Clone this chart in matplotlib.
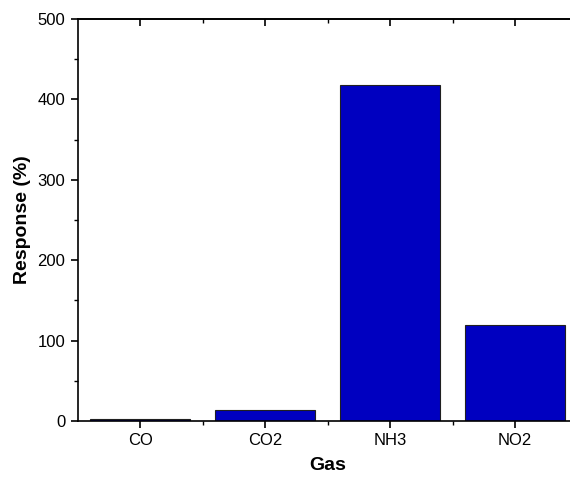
import matplotlib
matplotlib.use('Agg')
import matplotlib.pyplot as plt
from matplotlib.ticker import MultipleLocator, FixedLocator

gases = ['CO', 'CO2', 'NH3', 'NO2']
response = [2.5, 14, 418, 120]

plt.rcParams['font.family'] = ['Liberation Sans', 'DejaVu Sans']

fig = plt.figure(figsize=(5.7, 4.82), dpi=100)
# right spine sits just past the image edge, as in the reference crop
ax = fig.add_axes([0.1368, 0.1266, 0.8765, 0.834])

x = range(len(gases))
ax.bar(x, response, width=0.8, color='#0000c0', edgecolor='#202020', linewidth=0.8)

ax.set_xlim(-0.5, 3.5)
ax.set_ylim(0, 500)
ax.set_xticks(list(x))
ax.set_xticklabels(gases)
ax.xaxis.set_minor_locator(FixedLocator([0.5, 1.5, 2.5]))
ax.yaxis.set_major_locator(MultipleLocator(100))
ax.yaxis.set_minor_locator(MultipleLocator(50))

for s in ax.spines.values():
    s.set_linewidth(1.2)

ax.tick_params(axis='both', which='major', direction='out', length=5, width=1.2,
               labelsize=12, pad=4)
ax.tick_params(axis='both', which='minor', direction='out', length=3, width=1.0)

# mirrored ticks on top/right point inward
top = ax.secondary_xaxis('top')
top.set_xticks(list(x))
top.set_xticklabels([])
top.xaxis.set_minor_locator(FixedLocator([0.5, 1.5, 2.5]))
top.tick_params(which='major', direction='in', length=5, width=1.2)
top.tick_params(which='minor', direction='in', length=3, width=1.0)
top.spines['top'].set_linewidth(1.2)
right = ax.secondary_yaxis('right')
right.yaxis.set_major_locator(MultipleLocator(100))
right.yaxis.set_minor_locator(MultipleLocator(50))
right.set_yticklabels([])
right.tick_params(which='major', direction='in', length=5, width=1.2)
right.tick_params(which='minor', direction='in', length=3, width=1.0)

ax.set_xlabel('Gas', fontsize=14, fontweight='bold', labelpad=6)
ax.set_ylabel('Response (%)', fontsize=14, fontweight='bold', labelpad=5)

fig.savefig('out.png', dpi=100)
